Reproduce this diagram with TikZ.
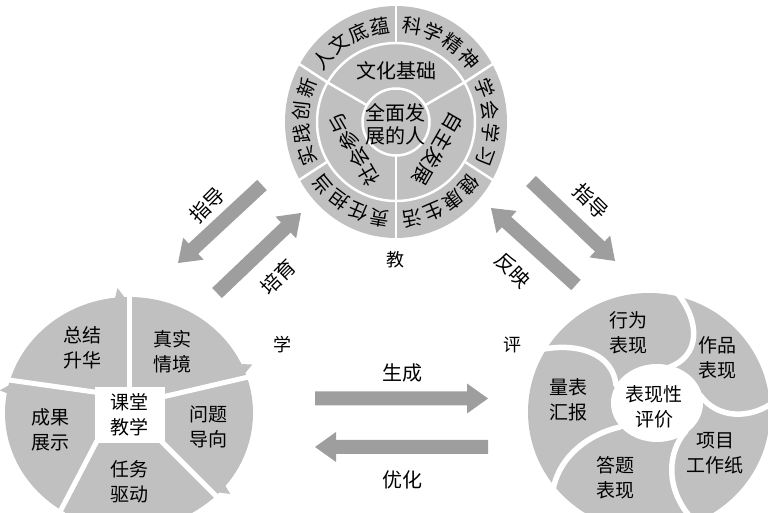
\documentclass[tikz,border=0pt]{standalone}
\usepackage{fontspec}
\newfontfamily\cjk{Noto Sans CJK SC}
\usetikzlibrary{calc}
\definecolor{segc}{RGB}{192,192,192}
\definecolor{arrc}{RGB}{158,158,158}
% block arrow: name, tail coordinate, tip coordinate
\newcommand\blockarr[3]{%
  \coordinate (#1h) at ($(#3)!21pt!(#2)$);
  \fill[arrc] ($(#2)!7pt!90:(#3)$) -- ($(#1h)!7pt!90:(#3)$) -- ($(#1h)!15pt!90:(#3)$) -- (#3)
    -- ($(#1h)!15pt!-90:(#3)$) -- ($(#1h)!7pt!-90:(#3)$) -- ($(#2)!7pt!-90:(#3)$) -- cycle;}
% text along the outer ring of the top circle
\newcommand\ringtext[6]{%
  \foreach \c [count=\i] in {#3,#4,#5,#6}{%
    \pgfmathsetmacro\rgang{#2+(2.5-\i)*13.5}%
    \node[ringt, rotate=\rgang-90] (#1\i) at ($(tc)+(\rgang:95 and 97.5)$) {\c};}}
% barb of a cycle arrow: outer point, gap direction
\newcommand\lbarb[2]{%
  \fill[segc] ($(#1)+(#2+90:2.5)+(#2:-3)$) -- ($(#1)+(#2+90:14)+(#2:-1)$)
    -- ($(#1)+(#2+90:11.5)+(#2:9)$) -- cycle;}
\begin{document}
\begin{tikzpicture}[x=1pt,y=1pt,
  txt/.style={font=\cjk\fontsize{19}{25}\selectfont, align=center, inner sep=0pt},
  lab/.style={font=\cjk\fontsize{20}{20}\selectfont, inner sep=0pt},
  ringt/.style={font=\cjk\fontsize{19.5}{20}\selectfont, inner sep=0pt},
  wline/.style={white, line width=2.5pt},
  lgap/.style={white, line width=5pt},
  gapl/.style={white, line width=5.5pt, line cap=round}]
\useasboundingbox (0,0) rectangle (768,513);

% ---------------- top circle ----------------
\coordinate (tc) at (396,391);
\fill[segc] (tc) ellipse [x radius=111pt, y radius=116pt];
\foreach \a in {30,90,...,330} \draw[wline] ($(tc)+(\a:79)$) -- ($(tc)+(\a:118 and 123)$);
\foreach \a in {30,150,270} \draw[wline] ($(tc)+(\a:33.5)$) -- ($(tc)+(\a:79)$);
\draw[wline] (tc) circle [radius=79pt];
\draw[wline] (tc) circle [radius=33.5pt];
\ringtext{rA}{120}{人}{文}{底}{蕴}
\ringtext{rB}{60}{科}{学}{精}{神}
\ringtext{rC}{0}{学}{会}{学}{习}
\ringtext{rD}{-60}{健}{康}{生}{活}
\ringtext{rE}{-120}{责}{任}{担}{当}
\ringtext{rF}{180}{实}{践}{创}{新}
\node[lab] (mA) at ($(tc)+(90:51)$) {文化基础};
\node[lab, rotate=-120] (mB) at ($(tc)+(-33:50)$) {自主发展};
\node[lab, rotate=120] (mC) at ($(tc)+(213:50)$) {社会参与};
\node[txt, font=\cjk\fontsize{20}{23}\selectfont] (core) at (395,389) {全面发\\展的人};

% ---------------- left cycle ----------------
\coordinate (lc) at (129,100);
\fill[segc] (lc) ellipse [x radius=124pt, y radius=116pt];
\coordinate (gi1) at (129,120);    \coordinate (go1) at (129,216);
\coordinate (gi2) at (160,115.5);  \coordinate (go2) at (246.4,135.4);
\coordinate (gi3) at (158,75);     \coordinate (go3) at (215.8,17.2);
\coordinate (gi4) at (99,76);      \coordinate (go4) at (60.9,2.9);
\coordinate (gi5) at (100,120.2);  \coordinate (go5) at (10.2,132.8);
\lbarb{go1}{90}
\lbarb{go2}{13.5}
\lbarb{go3}{-45}
\lbarb{go4}{-117.6}
\lbarb{go5}{172}
\draw[lgap] (gi1) -- ($(go1)+(90:20)$);
\draw[lgap] (gi2) -- ($(go2)+(13.5:20)$);
\draw[lgap] (gi3) -- ($(go3)+(-45:20)$);
\draw[lgap] (gi4) -- ($(go4)+(-117.6:20)$);
\draw[lgap] (gi5) -- ($(go5)+(172:20)$);
\node[txt, fill=white, minimum width=70pt, minimum height=56pt] (ketang) at (129.5,98) {课堂\\教学};
\node[txt] (l1) at (82,165) {总结\\升华};
\node[txt] (l2) at (172,161) {真实\\情境};
\node[txt] (l3) at (208,86) {问题\\导向};
\node[txt] (l4) at (129,31) {任务\\驱动};
\node[txt] (l5) at (50,83) {成果\\展示};

% ---------------- right cycle ----------------
\coordinate (rc) at (649,101);
\fill[segc] (rc) ellipse [x radius=121pt, y radius=119pt];
\draw[gapl] (522,158) .. controls (565,174) and (612,165) .. (616,128);
\draw[gapl] (670,228) .. controls (698,200) and (705,160) .. (670,146);
\draw[gapl] (775,112) .. controls (752,94) and (718,93) .. (700,118);
\draw[gapl] (692,-6) .. controls (664,25) and (668,62) .. (686,82);
\draw[gapl] (552,2) .. controls (548,50) and (585,78) .. (620,86);
\fill[white] (657,110) ellipse [x radius=46pt, y radius=39pt];
\node[txt] (pj) at (654,106) {表现性\\评价};
\node[txt] (r1) at (628,180) {行为\\表现};
\node[txt] (r2) at (717,155) {作品\\表现};
\node[txt] (r3) at (715,60) {项目\\工作纸};
\node[txt] (r4) at (615,35) {答题\\表现};
\node[txt] (r5) at (568,113) {量表\\汇报};

% ---------------- arrows ----------------
\coordinate (a1t) at (262,328); \coordinate (a1p) at (178,250);
\coordinate (a2t) at (217,220); \coordinate (a2p) at (301,300);
\coordinate (a3t) at (531,332); \coordinate (a3p) at (615,252);
\coordinate (a4t) at (576,228); \coordinate (a4p) at (491,305);
\coordinate (a5t) at (315,114.5); \coordinate (a5p) at (488,114.5);
\coordinate (a6t) at (488,66); \coordinate (a6p) at (315,66);
\blockarr{aa}{a1t}{a1p}
\blockarr{ab}{a2t}{a2p}
\blockarr{ac}{a3t}{a3p}
\blockarr{ad}{a4t}{a4p}
\blockarr{ae}{a5t}{a5p}
\blockarr{af}{a6t}{a6p}
\node[lab, rotate=45] (zd1) at (207,308) {指导};
\node[lab, rotate=45] (py) at (278,236) {培育};
\node[lab, rotate=-45] (zd2) at (591,312) {指导};
\node[lab, rotate=-45] (fy) at (513,243) {反映};
\node[lab] (sc) at (402,140) {生成};
\node[lab] (yh) at (402,33) {优化};
\node[lab, font=\cjk\fontsize{18}{18}\selectfont] (jiao) at (395,253) {教};
\node[lab, font=\cjk\fontsize{18}{18}\selectfont] (xue) at (282,168) {学};
\node[lab, font=\cjk\fontsize{18}{18}\selectfont] (ping) at (512,168) {评};
\end{tikzpicture}
\end{document}
